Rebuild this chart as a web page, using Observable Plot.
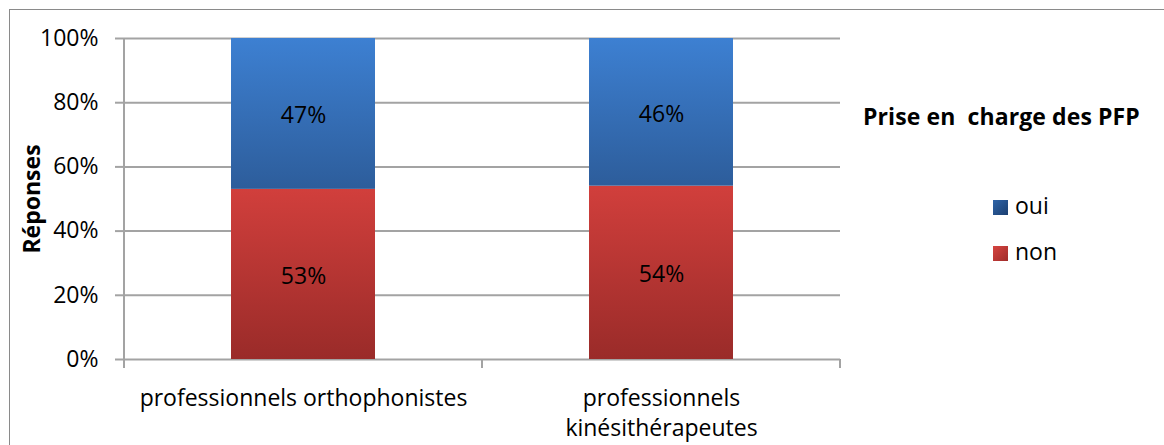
<!DOCTYPE html>
<html>
<head>
<meta charset="utf-8">
<script src="https://cdn.jsdelivr.net/npm/d3@7"></script>
<script src="https://cdn.jsdelivr.net/npm/@observablehq/plot@0.6"></script>
<style>
  html, body { margin: 0; padding: 0; background: #fff; overflow: hidden; }
  #wrap { position: relative; width: 1164px; height: 445px; overflow: hidden; font-family: "Open Sans", sans-serif; }
  #border { position: absolute; left: 9px; top: 9px; width: 1300px; height: 600px; border: 1.5px solid #8a8a8a; box-sizing: border-box; }
  #chart { position: absolute; left: 0; top: 0; }
  .legend-title { position: absolute; left: 863px; top: 101px; font-weight: bold; font-size: 23px; line-height: 30px; white-space: pre; color: #000; letter-spacing: 0.1px; }
  .legend-item { position: absolute; left: 993px; font-size: 23px; line-height: 30px; color: #000; white-space: pre; }
  .legend-item .sw { display: inline-block; width: 15px; height: 15px; vertical-align: -1px; margin-right: 7px; }
</style>
</head>
<body>
<div id="wrap">
  <div id="border"></div>
  <div id="chart"></div>
  <div id="legend"></div>
</div>
<script>
// ---- data ----
const categories = ["professionnels orthophonistes", "professionnels kinésithérapeutes"];
const tickLabels = ["professionnels orthophonistes", "professionnels\nkinésithérapeutes"];
const responses = ["non", "oui"];
const nonValues = [53, 54];
const ouiValues = [47, 46];
const yTicks = [0, 20, 40, 60, 80, 100];
const legendTitle = "Prise en  charge des PFP";
const legendOrder = ["oui", "non"];
const yLabel = "Réponses";

// ---- styles ----
const gradients = {
  oui: ["#3d80d2", "#2d5d9b"],
  non: ["#d13f3c", "#9a2b29"]
};
const legendSwatch = {
  oui: ["#2f64a8", "#1b3f70"],
  non: ["#d64440", "#a02c2a"]
};
const gridColor = "#a3a3a3";
const fontSize = 23;

const rows = categories.flatMap((c, i) => [
  {category: c, response: "non", value: nonValues[i]},
  {category: c, response: "oui", value: ouiValues[i]}
]);

function frameMark(index, scales, values, dims) {
  const x = scales.x, y = scales.y;
  const starts = categories.map(c => x(c));
  const step = x.bandwidth ? x.bandwidth() : (dims.width - dims.marginLeft - dims.marginRight) / categories.length;
  const bounds = [...starts, starts[starts.length - 1] + step];
  const g = d3.create("svg:g").attr("stroke", gridColor).attr("stroke-width", 2).attr("fill", "none");
  const y0 = y(0), y1 = y(100);
  g.append("line").attr("x1", bounds[0]).attr("x2", bounds[0]).attr("y1", y1).attr("y2", y0 + 9);
  bounds.slice(1).forEach(bx => {
    g.append("line").attr("x1", bx).attr("x2", bx).attr("y1", y0).attr("y2", y0 + 9);
  });
  return g.node();
}

const chart = Plot.plot({
  width: 1164,
  height: 445,
  marginLeft: 123,
  marginRight: 324,
  marginTop: 38,
  marginBottom: 86,
  style: {fontFamily: "'Open Sans', sans-serif", fontSize: fontSize + "px", color: "#000", background: "transparent", overflow: "visible"},
  x: {domain: categories, padding: 0},
  y: {domain: [0, 100]},
  color: {domain: responses, range: responses.map(r => `url(#grad-${r})`)},
  marks: [
    Plot.gridY(yTicks, {stroke: gridColor, strokeOpacity: 1, strokeWidth: 2}),
    Plot.axisY(yTicks, {
      tickFormat: d => d + "%",
      tickSize: 8,
      tickPadding: 17,
      stroke: gridColor,
      strokeWidth: 2,
      fill: "#000",
      fontSize: fontSize,
      label: yLabel,
      labelAnchor: "center",
      labelArrow: false,
      labelOffset: 100
    }),
    Plot.axisX({
      tickSize: 0,
      tickPadding: 25,
      fontSize: fontSize,
      lineHeight: 1.3,
      tickFormat: d => tickLabels[categories.indexOf(d)],
      label: null
    }),
    Plot.barY(rows, {x: "category", y: "value", fill: "response", order: responses, insetLeft: 107, insetRight: 107}),
    Plot.text(rows, Plot.stackY({x: "category", y: "value", z: "response", order: responses, text: d => d.value + "%", fontSize: fontSize, fill: "#000", dy: 2})),
    frameMark
  ]
});

// gradient defs
const svg = d3.select(chart);
const defs = svg.insert("defs", ":first-child");
for (const r of responses) {
  const lg = defs.append("linearGradient").attr("id", `grad-${r}`).attr("x1", 0).attr("y1", 0).attr("x2", 0).attr("y2", 1);
  lg.append("stop").attr("offset", "0%").attr("stop-color", gradients[r][0]);
  lg.append("stop").attr("offset", "100%").attr("stop-color", gradients[r][1]);
}
svg.selectAll('[aria-label="y-axis label"] text').attr("font-weight", "bold");

document.getElementById("chart").appendChild(chart);

// legend
const legend = document.getElementById("legend");
const t = document.createElement("div");
t.className = "legend-title";
t.textContent = legendTitle;
legend.appendChild(t);
legendOrder.forEach((r, i) => {
  const it = document.createElement("div");
  it.className = "legend-item";
  it.style.top = (190 + i * 46) + "px";
  const sw = document.createElement("span");
  sw.className = "sw";
  sw.style.background = `linear-gradient(135deg, ${legendSwatch[r][0]}, ${legendSwatch[r][1]})`;
  it.appendChild(sw);
  it.appendChild(document.createTextNode(r));
  legend.appendChild(it);
});
</script>
</body>
</html>
